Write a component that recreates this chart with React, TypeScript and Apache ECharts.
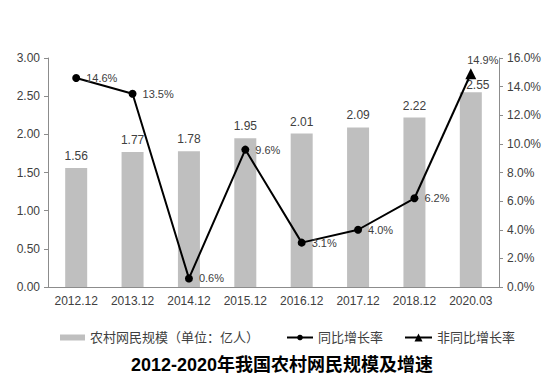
import React, { useEffect, useRef } from "react";
import * as echarts from "echarts";

const categories = ["2012.12", "2013.12", "2014.12", "2015.12", "2016.12", "2017.12", "2018.12", "2020.03"];
const scaleValues = [1.56, 1.77, 1.78, 1.95, 2.01, 2.09, 2.22, 2.55];
const yoyRates: (number | null)[] = [14.6, 13.5, 0.6, 9.6, 3.1, 4.0, 6.2, null];
const nonYoyRates: (number | null)[] = [null, null, null, null, null, null, 6.2, 14.9];
const leftTicks = { min: 0, max: 3, interval: 0.5 };
const rightTicks = { min: 0, max: 16, interval: 2 };

const FONT = "'Liberation Sans', 'Noto Sans CJK SC', sans-serif";
const TXT = "#404040";
const AXIS = "#8c8c8c";

const SERIES_BAR = "农村网民规模（单位：亿人）";
const SERIES_YOY = "同比增长率";
const SERIES_NON = "非同比增长率";

export default function App() {
  const ref = useRef<HTMLDivElement>(null);
  useEffect(() => {
    if (!ref.current) return;
    const chart = echarts.init(ref.current, null, { renderer: "svg" });
    const legendBase = {
      top: 326,
      itemWidth: 26,
      itemHeight: 7,
      itemGap: 4,
      textStyle: { fontSize: 13, color: TXT, fontFamily: FONT },
    };
    chart.setOption({
      animation: false,
      textStyle: { fontFamily: FONT },
      title: {
        text: "2012-2020年我国农村网民规模及增速",
        left: 126,
        top: 351,
        textStyle: { fontSize: 18, fontWeight: "bold", color: "#000", fontFamily: FONT },
      },
      legend: [
        { ...legendBase, left: 55, data: [{ name: SERIES_BAR, icon: "rect", itemStyle: { color: "#bfbfbf" } }], itemHeight: 6, itemWidth: 25 },
        { ...legendBase, left: 281, data: [{ name: SERIES_YOY }] },
        { ...legendBase, left: 399, data: [{ name: SERIES_NON }], itemHeight: 10, itemWidth: 27 },
      ],
      grid: { left: 48, right: 55, top: 58, bottom: 105 },
      xAxis: {
        type: "category",
        data: categories,
        axisLine: { lineStyle: { color: AXIS } },
        axisTick: { show: false },
        axisLabel: { color: TXT, fontSize: 12, margin: 8, interval: 0 },
      },
      yAxis: [
        {
          type: "value",
          ...leftTicks,
          axisLine: { show: true, lineStyle: { color: AXIS } },
          axisTick: { show: true, length: 4, lineStyle: { color: AXIS } },
          splitLine: { show: false },
          axisLabel: { color: TXT, fontSize: 12, margin: 8, formatter: (v: number) => v.toFixed(2) },
        },
        {
          type: "value",
          ...rightTicks,
          position: "right",
          axisLine: { show: true, lineStyle: { color: AXIS } },
          axisTick: { show: true, length: 4, lineStyle: { color: AXIS } },
          splitLine: { show: false },
          axisLabel: { color: TXT, fontSize: 12, margin: 8, formatter: (v: number) => v.toFixed(1) + "%" },
        },
      ],
      series: [
        {
          name: SERIES_BAR,
          type: "bar",
          data: scaleValues.map((v, i) => (i === scaleValues.length - 1 ? { value: v, label: { offset: [7, 5] } } : v)),
          barWidth: 22,
          itemStyle: { color: "#bfbfbf" },
          label: { show: true, position: "top", distance: 6, color: TXT, fontSize: 12, formatter: (p: any) => p.value.toFixed(2) },
        },
        {
          name: SERIES_YOY,
          type: "line",
          yAxisIndex: 1,
          data: yoyRates,
          symbol: "circle",
          symbolSize: 8,
          lineStyle: { color: "#000", width: 2 },
          itemStyle: { color: "#000" },
          label: { show: true, position: "right", distance: 6, color: TXT, fontSize: 11, formatter: (p: any) => p.value.toFixed(1) + "%" },
          z: 5,
        },
        {
          name: SERIES_NON,
          type: "line",
          yAxisIndex: 1,
          data: nonYoyRates.map((v, i) => (i === 6 ? { value: v, symbol: "none", label: { show: false } } : v)),
          symbol: "triangle",
          symbolSize: 11,
          lineStyle: { color: "#000", width: 2 },
          itemStyle: { color: "#000" },
          label: { show: true, position: "top", offset: [12, 2], color: TXT, fontSize: 11, formatter: (p: any) => (p.value == null ? "" : p.value.toFixed(1) + "%") },
          z: 5,
        },
      ],
    });
    return () => chart.dispose();
  }, []);
  return <div ref={ref} style={{ width: 554, height: 392, margin: -8 }} />;
}
